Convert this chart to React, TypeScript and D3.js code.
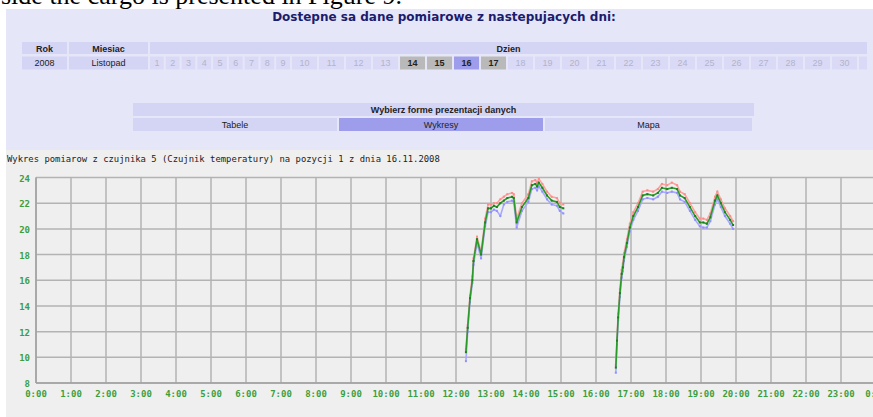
import React from "react";
import * as d3 from "d3";

// ---------- data ----------
const pageText = "side the cargo is presented in Figure 9.";
const panelTitle = "Dostepne sa dane pomiarowe z nastepujacych dni:";
const headerLabels = ["Rok", "Miesiac", "Dzien"];
const yearLabel = "2008";
const monthLabel = "Listopad";
const days = d3.range(1, 31);
const availableDays = [14, 15, 16, 17];
const selectedDay = 16;
const formTitle = "Wybierz forme prezentacji danych";
const formOptions = ["Tabele", "Wykresy", "Mapa"];
const selectedForm = "Wykresy";
const chartCaption =
  "Wykres pomiarow z czujnika 5 (Czujnik temperatury) na pozycji 1 z dnia 16.11.2008";

const yTicks = [8, 10, 12, 14, 16, 18, 20, 22, 24];
const xTickHours = d3.range(0, 25);

const seg1Times = ["12:17","12:20","12:24","12:28","12:30","12:36","12:43","12:50","12:55","13:00","13:05","13:10","13:16","13:22","13:28","13:36","13:39","13:44","13:53","14:04","14:10","14:16","14:19","14:22","14:28","14:36","14:44","14:53","14:58","15:04"];
const seg1Green = [10.4, 12.3, 14.6, 16.0, 17.5, 19.2, 18.0, 20.5, 21.6, 21.6, 21.8, 21.7, 22.0, 22.2, 22.4, 22.5, 22.4, 20.5, 21.7, 22.4, 23.4, 23.5, 23.3, 23.6, 23.2, 22.6, 22.2, 22.1, 21.7, 21.6];
const seg1Red = [10.6, 12.5, 14.8, 16.3, 17.7, 19.4, 18.2, 20.8, 21.9, 21.9, 22.0, 22.0, 22.3, 22.5, 22.7, 22.8, 22.7, 20.8, 22.0, 22.7, 23.7, 23.8, 23.6, 23.9, 23.5, 22.9, 22.5, 22.4, 22.0, 21.9];
const seg1Blue = [9.7, 12.0, 14.3, 15.8, 17.2, 18.9, 17.7, 20.2, 21.3, 21.3, 21.5, 21.4, 21.0, 21.9, 22.1, 22.2, 22.1, 20.1, 21.4, 22.1, 23.1, 23.2, 23.0, 23.3, 22.9, 22.3, 21.9, 21.8, 21.4, 21.2];

const seg2Times = ["16:34","16:36","16:38","16:41","16:44","16:46","16:48","16:53","16:58","17:04","17:12","17:20","17:28","17:38","17:46","17:53","18:02","18:10","18:19","18:24","18:32","18:41","18:50","18:58","19:04","19:10","19:16","19:24","19:28","19:34","19:41","19:50","19:55"];
const seg2Green = [9.2, 11.3, 13.1, 15.0, 16.5, 17.0, 17.8, 18.9, 20.1, 21.0, 21.7, 22.6, 22.7, 22.6, 22.8, 23.2, 23.1, 23.2, 23.1, 22.6, 22.4, 21.7, 21.0, 20.5, 20.5, 20.4, 20.9, 22.2, 22.6, 22.0, 21.3, 20.7, 20.3];
const seg2Red = [9.4, 11.5, 13.4, 15.3, 16.8, 17.3, 18.1, 19.2, 20.4, 21.3, 22.0, 22.9, 23.0, 22.9, 23.1, 23.5, 23.4, 23.6, 23.4, 22.9, 22.7, 22.0, 21.3, 20.8, 20.8, 20.7, 21.2, 22.5, 22.9, 22.3, 21.6, 21.0, 20.6];
const seg2Blue = [8.8, 11.0, 12.9, 14.7, 16.2, 16.7, 17.5, 18.6, 19.8, 20.7, 21.4, 22.3, 22.4, 22.3, 22.5, 22.9, 22.8, 22.9, 22.8, 22.3, 22.1, 21.4, 20.7, 20.2, 20.1, 20.1, 20.6, 21.9, 22.3, 21.7, 21.0, 20.4, 20.0];

// ---------- layout ----------
const W = 873;
const H = 417;
const SANS = "'Liberation Sans', Arial, sans-serif";
const MONO = "'DejaVu Sans Mono', monospace";

const toHours = (t: string) => {
  const [h, m] = t.split(":").map(Number);
  return h + m / 60;
};

type Pt = { t: number; v: number };
const mk = (times: string[], vals: number[]): Pt[] =>
  times.map((t, i) => ({ t: toHours(t), v: vals[i] }));

const series = [
  { color: "#ffa0a0", dot: "#ff8a8a", segs: [mk(seg1Times, seg1Red), mk(seg2Times, seg2Red)] },
  { color: "#a8a8ff", dot: "#9090ff", segs: [mk(seg1Times, seg1Blue), mk(seg2Times, seg2Blue)] },
  { color: "#2a9a2a", dot: "#1c801c", segs: [mk(seg1Times, seg1Green), mk(seg2Times, seg2Green)] },
];

export default function App() {
  const x = d3.scaleLinear().domain([0, 24]).range([36, 876]);
  const y = d3.scaleLinear().domain([8, 24]).range([383, 177.5]);
  const line = d3
    .line<Pt>()
    .x((d) => x(d.t))
    .y((d) => y(d.v));

  let cx = 150;
  const dayCells = days.map((d) => {
    const w = String(d).length === 1 ? 15.78 : 27;
    const cell = { d, x0: cx, w };
    cx += w;
    return cell;
  });

  const formX = [133, 339, 545, 754];

  return (
    <svg
      width={W}
      height={H}
      style={{ position: "absolute", left: 0, top: 0, display: "block" }}
    >
      <rect x={0} y={0} width={W} height={H} fill="#ffffff" />
      <text x={1} y={4} fontFamily="'Liberation Serif', 'Times New Roman', serif" fontSize={26} fill="#000">
        {pageText}
      </text>

      <rect x={6} y={9} width={W - 6} height={141} fill="#e6e6f9" />
      <text x={444} y={17} textAnchor="middle" dominantBaseline="central" fontFamily="'DejaVu Sans', Verdana, sans-serif" fontWeight="600" fontSize={12} fill="#1c1c6c">
        {panelTitle}
      </text>

      <rect x={22} y={42} width={45} height={12} fill="#d4d4f5" />
      <rect x={69} y={42} width={79} height={12} fill="#d4d4f5" />
      <rect x={150} y={42} width={717} height={12} fill="#d4d4f5" />
      {[44.5, 108.5, 508.5].map((tx, i) => (
        <text key={i} x={tx} y={48.5} textAnchor="middle" dominantBaseline="central" fontFamily={SANS} fontWeight="bold" fontSize={9} fill="#222">
          {headerLabels[i]}
        </text>
      ))}
      <rect x={22} y={56.5} width={45} height={13} fill="#d4d4f5" />
      <rect x={69} y={56.5} width={79} height={13} fill="#d4d4f5" />
      <text x={44.5} y={63} textAnchor="middle" dominantBaseline="central" fontFamily={SANS} fontSize={9} fill="#222">{yearLabel}</text>
      <text x={108.5} y={63} textAnchor="middle" dominantBaseline="central" fontFamily={SANS} fontSize={9} fill="#222">{monthLabel}</text>
      {dayCells.map((c) => {
        const avail = availableDays.includes(c.d);
        const sel = c.d === selectedDay;
        const bg = sel ? "#9d9deb" : avail ? "#b9b9b9" : "#dadaf7";
        return (
          <g key={c.d}>
            <rect x={c.x0} y={56.5} width={c.w - 2} height={13} fill={bg} />
            <text x={c.x0 + (c.w - 2) / 2} y={63} textAnchor="middle" dominantBaseline="central" fontFamily={SANS} fontSize={9} fontWeight={avail ? "bold" : "normal"} fill={avail ? "#222" : "#b3b3c9"}>
              {c.d}
            </text>
          </g>
        );
      })}
      <rect x={cx} y={56.5} width={867 - cx} height={13} fill="#dadaf7" />

      <rect x={133} y={103} width={621} height={13} fill="#d4d4f5" />
      <text x={443.5} y={110} textAnchor="middle" dominantBaseline="central" fontFamily={SANS} fontWeight="bold" fontSize={9} fill="#222">
        {formTitle}
      </text>
      {formOptions.map((o, i) => (
        <g key={o}>
          <rect x={formX[i]} y={118} width={formX[i + 1] - formX[i] - 2} height={13} fill={o === selectedForm ? "#9d9deb" : "#d4d4f5"} />
          <text x={(formX[i] + formX[i + 1] - 2) / 2} y={125} textAnchor="middle" dominantBaseline="central" fontFamily={SANS} fontSize={9} fill="#222">
            {o}
          </text>
        </g>
      ))}

      <rect x={6} y={150} width={W - 6} height={H - 150} fill="#efefef" />
      <text x={7} y={162} fontFamily={MONO} fontSize={8.9} fill="#222">
        {chartCaption}
      </text>

      {yTicks.map((t) => (
        <line key={"h" + t} x1={x(0)} x2={x(24)} y1={y(t)} y2={y(t)} stroke="#b3b3b3" strokeWidth={1.5} />
      ))}
      {xTickHours.map((h) => (
        <line key={"v" + h} x1={x(h)} x2={x(h)} y1={y(24)} y2={y(8)} stroke="#b3b3b3" strokeWidth={1.5} />
      ))}
      <line x1={x(0)} x2={x(24)} y1={y(8)} y2={y(8)} stroke="#a0a0a0" strokeWidth={1.5} />
      <line x1={x(0)} x2={x(0)} y1={y(24)} y2={y(8)} stroke="#a0a0a0" strokeWidth={1.5} />

      {yTicks.map((t) => (
        <text key={"yl" + t} x={30} y={y(t) + 1} textAnchor="end" dominantBaseline="central" fontFamily={MONO} fontWeight="bold" fontSize={9} fill="#3d9e3d">
          {t}
        </text>
      ))}
      {xTickHours.map((h) => (
        <text key={"xl" + h} x={x(h)} y={397} textAnchor="middle" fontFamily={MONO} fontWeight="bold" fontSize={9} fill="#3d9e3d">
          {`${h % 24}:00`}
        </text>
      ))}

      {series.map((s, si) => (
        <g key={si}>
          {s.segs.map((seg, k) => (
            <g key={k}>
              <path d={line(seg) || ""} fill="none" stroke={s.color} strokeWidth={1.6} />
              {seg.map((p, j) => (
                <rect key={j} x={x(p.t) - 1} y={y(p.v) - 1} width={2} height={2} fill={s.dot} />
              ))}
            </g>
          ))}
        </g>
      ))}
    </svg>
  );
}
